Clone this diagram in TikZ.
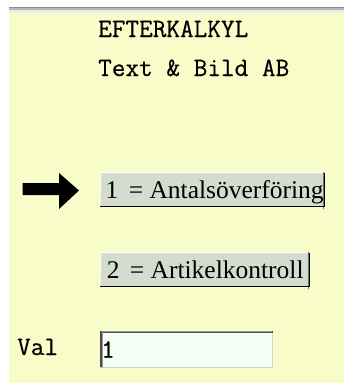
\documentclass[tikz,border=0pt]{standalone}
\usepackage{fontspec}
\setmainfont{Liberation Serif}
\newfontfamily\monofont[AutoFakeBold=0.5]{Latin Modern Mono}
\definecolor{panel}{RGB}{248,252,200}
\definecolor{btnface}{RGB}{212,220,208}
\definecolor{btnshadow}{RGB}{110,110,110}
\definecolor{fieldface}{RGB}{246,255,246}
\definecolor{fieldedge}{RGB}{205,215,205}
\tikzset{
  mono/.style={inner sep=0pt, anchor=base west, font=\monofont\bfseries\fontsize{26.5}{30}\selectfont},
  winbutton/.style={anchor=north west, inner sep=0pt, fill=btnface,
    minimum height=34pt, text height=17pt, text depth=0pt,
    font=\fontsize{25.5}{30}\selectfont},
  inputfield/.style={anchor=north west, inner xsep=1pt, inner ysep=0pt, fill=fieldface,
    minimum height=34pt, text height=15pt, text depth=0pt, align=left,
    font=\monofont\bfseries\fontsize{26.5}{30}\selectfont},
}
\begin{document}
\begin{tikzpicture}[x=1pt,y=-1pt]
  \useasboundingbox (0,0) rectangle (344,383);
  % window background and title edge
  \fill[white] (0,0) rectangle (344,383);
  \fill[panel] (9,6.5) rectangle (344,383);
  \fill[black!45] (9,6.5) rectangle (344,7.5);
  \fill[black!28] (9,7.5) rectangle (344,10);
  \fill[black!8] (9,10) rectangle (344,12.7);

  % heading
  \node[mono] (title) at (98,37) {EFTERKALKYL};
  \node[mono] (firm) at (98,76) {Text \& Bild AB};

  % menu buttons
  \node[winbutton, minimum width=225pt] (b1) at (100,173) {\hspace{4pt}1\hspace{4pt} = Antalsöverföring};
  \node[winbutton, minimum width=210pt] (b2) at (100,253) {2\hspace{4pt} = Artikelkontroll};
  \foreach \b in {b1,b2} {
    \draw[white, line width=1pt] ([yshift=-0.5pt]\b.south west) -- ([xshift=0.5pt,yshift=0.5pt]\b.north west) -- ([yshift=0.5pt]\b.north east);
    \draw[btnshadow, line width=1pt] ([xshift=-2pt,yshift=1pt]\b.north east) -- ([xshift=-2pt,yshift=-1.5pt]\b.south east);
    \draw[black, line width=1.6pt] ([xshift=-0.8pt]\b.north east) -- ([xshift=-0.8pt,yshift=0.8pt]\b.south east) -- ([yshift=0.8pt]\b.south west);
  }

  % pointer to the selected option
  \fill[black] (22.7,183) -- (59,183) -- (59,173) -- (79,190.5) -- (59,209) -- (59,195) -- (22.7,195) -- cycle;

  % choice input
  \node[mono] (val) at (17,355) {Val};
  \node[inputfield, minimum width=173pt, text width=171pt] (field) at (100,333) {1};
  \draw[fieldedge, line width=1pt] ([yshift=-0.5pt]field.south west) -- ([xshift=-0.5pt,yshift=-0.5pt]field.south east) -- ([xshift=-0.5pt]field.north east);
  \draw[black!70, line width=1.6pt] ([xshift=0.8pt]field.south west) -- ([xshift=0.8pt,yshift=0.8pt]field.north west) -- ([yshift=0.8pt]field.north east);
  \draw[black!40, line width=0.8pt] ([xshift=2pt,yshift=-1pt]field.south west) -- ([xshift=2pt,yshift=2pt]field.north west) -- ([xshift=-1pt,yshift=2pt]field.north east);
\end{tikzpicture}
\end{document}
